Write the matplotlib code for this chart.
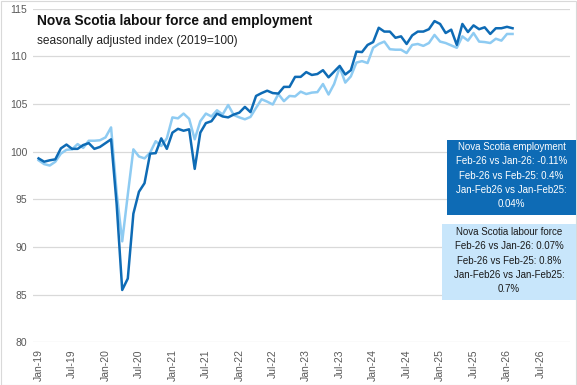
#! /usr/bin/env python3

"""
Nova Scotia labour force and employment, seasonally adjusted index (2019=100).
Monthly values Jan-2019 to Feb-2026, read off the published chart.
"""
import matplotlib
matplotlib.use('Agg')
import matplotlib.pyplot as plt
from matplotlib.patches import Rectangle
import pandas as pd

first_month = '2019-01'
last_month = '2026-02'

employment = [
    99.3, 98.95, 99.1, 99.2, 100.35, 100.75, 100.3, 100.3, 100.7, 100.9, 100.3, 100.5,
    100.9, 101.3, 94.5, 85.5, 86.7, 93.5, 95.8, 96.7, 99.8, 99.85, 101.4, 100.3,
    102.0, 102.4, 102.2, 102.35, 98.2, 102.0, 103.0, 103.2, 104.0, 103.7, 103.6, 103.9,
    104.1, 104.7, 104.15, 105.85, 106.15, 106.4, 106.15, 106.1, 106.8, 106.8, 107.85, 107.85,
    108.35, 108.05, 108.15, 108.55, 107.8, 108.4, 109.0, 108.1, 108.55, 110.5, 110.45, 111.2,
    111.5, 113.0, 112.6, 112.6, 111.95, 112.1, 111.3, 112.2, 112.6, 112.6, 112.85, 113.7,
    113.4, 112.45, 112.8, 111.2, 113.4, 112.55, 113.25, 112.85, 113.05, 112.35, 112.95, 112.95,
    113.1, 112.95,
]

labour_force = [
    99.1, 98.7, 98.55, 98.95, 99.8, 100.2, 100.25, 100.8, 100.4, 101.15, 101.15, 101.2,
    101.5, 102.55, 95.7, 90.6, 95.5, 100.25, 99.5, 99.3, 99.9, 101.1, 100.6, 101.4,
    103.6, 103.5, 104.0, 103.45, 101.3, 103.2, 104.0, 103.7, 104.35, 103.9, 104.9, 103.85,
    103.6, 103.4, 103.65, 104.6, 105.5, 105.25, 104.95, 106.05, 105.3, 105.85, 105.8, 106.3,
    106.05, 106.2, 106.25, 107.1, 106.0, 107.1, 108.85, 107.25, 107.9, 109.35, 109.5, 109.3,
    110.9, 111.3, 111.55, 110.75, 110.7, 110.7, 110.35, 111.2, 111.3, 111.1, 111.4, 112.25,
    111.55, 111.4, 111.15, 110.9, 112.1, 111.65, 112.45, 111.55, 111.5, 111.4, 111.85, 111.65,
    112.35, 112.35,
]

employment_notes = [
    'Nova Scotia employment',
    'Feb-26 vs Jan-26: -0.11%',
    'Feb-26 vs Feb-25: 0.4%',
    'Jan-Feb26 vs Jan-Feb25:',
    '0.04%',
]

labour_force_notes = [
    'Nova Scotia labour force',
    'Feb-26 vs Jan-26: 0.07%',
    'Feb-26 vs Feb-25: 0.8%',
    'Jan-Feb26 vs Jan-Feb25:',
    '0.7%',
]

DARK = '#0E6BB5'
LIGHT = '#8ECBF2'
GRID = '#d9d9d9'
TICK = '#595959'

W, H = 577, 385


def px(x, y):
    # pixel position (from top-left) -> figure fraction
    return x / W, 1 - y / H


def plot_it():
    idx = list(range(len(employment)))

    # tick every 6 months, running past the data into the empty end of the axis
    tick_months = pd.period_range(first_month, '2026-07', freq='M')[::6]
    tick_pos = list(range(0, 6 * len(tick_months), 6))
    tick_labels = [p.strftime('%b-%y') for p in tick_months]

    plt.rcParams['font.family'] = ['Liberation Sans', 'DejaVu Sans']
    fig = plt.figure(figsize=(W / 100, H / 100), dpi=100)
    ax = fig.add_axes([33 / W, 1 - 342.4 / H, (570 - 33) / W, (342.4 - 8.7) / H])

    ax.plot(idx, labour_force, color=LIGHT, lw=1.8, solid_joinstyle='round')
    ax.plot(idx, employment, color=DARK, lw=1.8, solid_joinstyle='round')

    ax.set_ylim(80, 115)
    ax.set_yticks(range(80, 116, 5))
    ax.set_xlim(-1.0, 95.3)
    ax.set_xticks(tick_pos)
    ax.set_xticklabels(tick_labels, rotation=90)
    ax.tick_params(length=0, labelsize=7.5, labelcolor=TICK)
    ax.tick_params(axis='y', pad=4)
    ax.tick_params(axis='x', pad=5)
    ax.grid(axis='y', color=GRID, lw=0.9)
    ax.set_axisbelow(True)
    for s in ax.spines.values():
        s.set_visible(False)

    fig.text(*px(37, 21), 'Nova Scotia labour force and employment',
             fontsize=9.9, fontweight='bold', va='center', color='#111111')
    fig.text(*px(37, 41), 'seasonally adjusted index (2019=100)',
             fontsize=8.6, va='center', color='#222222')

    # annotation boxes on the right: (left, top, width, height, first line y)
    boxes = [
        (447, 140, 129, 75, 147.0, DARK, 'white', employment_notes),
        (442, 224, 134, 76, 232.0, '#C8E6FB', '#1a1a1a', labour_force_notes),
    ]
    for x0, y0, w, h, ly, face, fg, lines in boxes:
        fx, fy = px(x0, y0 + h)
        fig.add_artist(Rectangle((fx, fy), w / W, h / H, transform=fig.transFigure,
                                 facecolor=face, edgecolor='none', zorder=3))
        for i, line in enumerate(lines):
            fig.text(*px(x0 + w / 2, ly + 14.3 * i), line, ha='center',
                     va='center', fontsize=7.0, color=fg, zorder=4)

    # thin chart border like the spreadsheet export
    fig.add_artist(Rectangle((0.5 / W, 0.5 / H), 1 - 1.5 / W, 1 - 1.5 / H,
                             transform=fig.transFigure, fill=False,
                             edgecolor=GRID, lw=0.8))

    fig.savefig('out.png', dpi=100)


def main():
    plot_it()


if __name__ == '__main__':
    main()
